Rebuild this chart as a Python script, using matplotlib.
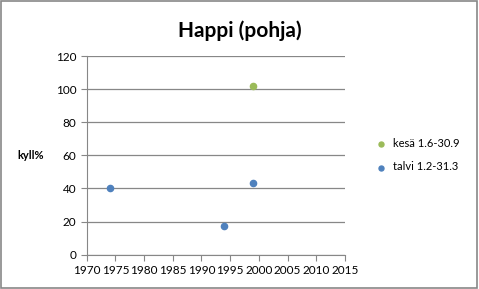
import matplotlib.pyplot as plt
from matplotlib.patches import Rectangle

plt.rcParams['font.family'] = ['Lato', 'DejaVu Sans']

# data
kesa_x = [1999]
kesa_y = [101.8]
talvi_x = [1974, 1994, 1999]
talvi_y = [40, 17.2, 43.5]
labels = ['kesä 1.6-30.9', 'talvi 1.2-31.3']

fig = plt.figure(figsize=(4.79, 2.89), dpi=100)
ax = fig.add_axes([0.181, 0.119, 0.539, 0.687])

ax.scatter(kesa_x, kesa_y, s=20, color='#9BBB59', label=labels[0], zorder=3)
ax.scatter(talvi_x, talvi_y, s=20, color='#4F81BD', label=labels[1], zorder=3)

ax.set_xlim(1970, 2015)
ax.set_ylim(0, 120)
ax.set_xticks(range(1970, 2016, 5))
ax.set_yticks(range(0, 121, 20))
ax.grid(axis='y', color='#878787', linewidth=0.9)
ax.set_axisbelow(True)
for s in ['top', 'right']:
    ax.spines[s].set_visible(False)
for s in ['left', 'bottom']:
    ax.spines[s].set_color('#878787')
ax.tick_params(labelsize=8.5, color='#878787', length=4, direction='out')

ax.set_ylabel('kyll%', rotation=0, fontsize=8, fontweight='bold', labelpad=18, va='center')
fig.suptitle('Happi (pohja)', fontsize=15, fontweight='bold', y=0.93)

ax.legend(loc='center left', bbox_to_anchor=(1.06, 0.5), frameon=False, fontsize=8,
          handletextpad=0.0, labelspacing=1.1, markerscale=0.8)

fig.patches.append(Rectangle((0.002, 0.004), 0.993, 0.992, transform=fig.transFigure,
                             fill=False, edgecolor='#878787', linewidth=1.2))

fig.savefig('out.png', dpi=100)
